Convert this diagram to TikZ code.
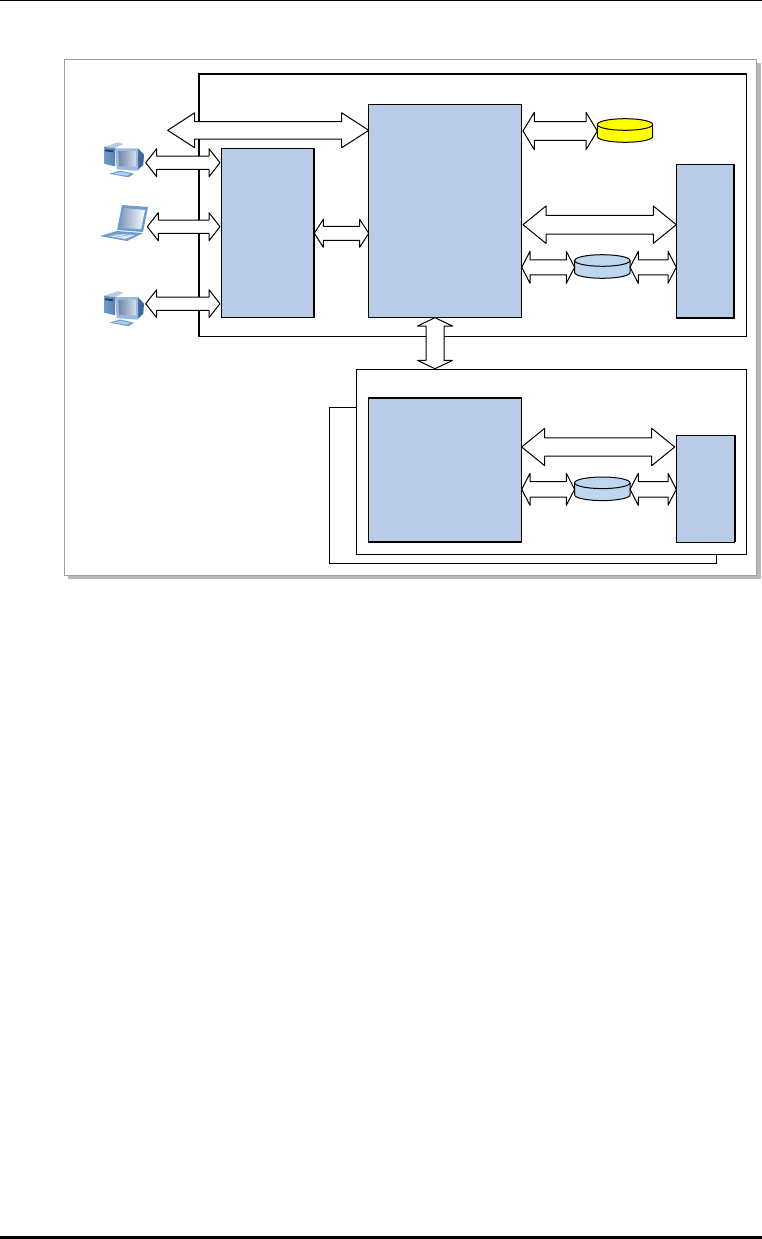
\documentclass[tikz,border=0pt]{standalone}
\usepackage{tikz}
\usetikzlibrary{calc}
\definecolor{boxblue}{RGB}{184,204,232}
\definecolor{diskblue}{RGB}{190,214,238}
\definecolor{diskyellow}{RGB}{255,255,0}
\definecolor{framegray}{RGB}{160,160,160}
\definecolor{shadowgray}{RGB}{185,185,185}
\definecolor{icondark}{RGB}{62,104,156}
\definecolor{iconmid}{RGB}{108,156,208}
\definecolor{iconlight}{RGB}{176,206,236}
\definecolor{screendark}{RGB}{112,134,166}
\definecolor{screenlight}{RGB}{214,222,234}
\newcommand{\diskshape}[2]{%
    \draw[fill=#2, line width=1pt]
        ($(#1.north west)+(0,5.8)$) arc[start angle=180, end angle=0, x radius=27.7pt, y radius=5.8pt]
        -- ($(#1.south east)+(0,-5.8)$) arc[start angle=0, end angle=-180, x radius=27.7pt, y radius=5.8pt] -- cycle;
    \draw[line width=1pt] ($(#1.north west)+(0,5.8)$) arc[start angle=180, end angle=360, x radius=27.7pt, y radius=5.8pt];
}
\tikzset{
    bluebox/.style={rectangle, draw=black, line width=1pt, fill=boxblue, inner sep=0pt, outer sep=0pt},
    framebox/.style={rectangle, draw=black, line width=1pt, fill=white, inner sep=0pt, outer sep=0pt},
    iconbox/.style={rectangle, inner sep=0pt, outer sep=0pt},
    disknode/.style={rectangle, inner sep=0pt, outer sep=0pt, minimum width=55.4pt, minimum height=23.6pt},
    % head length, head half width, shaft half width
    blockarrow/.style n args={3}{draw=black, line width=1pt, fill=white, line join=round,
        to path={
            -- ($(\tikztostart)!#1!(\tikztotarget)!#2!90:(\tikztotarget)$)
            -- ($(\tikztostart)!#1!(\tikztotarget)!#3!90:(\tikztotarget)$)
            -- ($(\tikztotarget)!#1!(\tikztostart)!#3!-90:(\tikztostart)$)
            -- ($(\tikztotarget)!#1!(\tikztostart)!#2!-90:(\tikztostart)$)
            -- (\tikztotarget)
            -- ($(\tikztotarget)!#1!(\tikztostart)!#2!90:(\tikztostart)$)
            -- ($(\tikztotarget)!#1!(\tikztostart)!#3!90:(\tikztostart)$)
            -- ($(\tikztostart)!#1!(\tikztotarget)!#3!-90:(\tikztotarget)$)
            -- ($(\tikztostart)!#1!(\tikztotarget)!#2!-90:(\tikztotarget)$)
            -- cycle}},
    pcicon/.pic={
        % tower
        \fill[iconlight] (-20,-13) -- (-5.7,-17.5) -- (-0.7,-15.8) -- (-9,-11.5) -- cycle;
        \shade[left color=iconmid, right color=icondark!85] (-20,-13) -- (-9,-11.5) -- (-9,6.5) -- (-20,4) -- cycle;
        \fill[icondark!60!black] (-19,-10.5) -- (-11,-9.5) -- (-11,-7.5) -- (-19,-8.5) -- cycle;
        % monitor
        \fill[icondark] (14,-11.5) -- (20,-5) -- (19.3,5) -- (14,10) -- cycle;
        \fill[iconmid!70!white] (-9,-11.5) -- (14,-11.5) -- (14,11) -- (-7.3,9.5) -- cycle;
        \shade[left color=screendark, right color=screenlight] (-5.7,-8.8) -- (12,-8.8) -- (12,6.8) -- (-4.7,6.2) -- cycle;
        % keyboard
        \fill[iconmid] (-14.7,14) -- (-4,10.8) -- (10,14) -- (4.3,17.5) -- cycle;
        \fill[iconlight] (-11,14) -- (-3.5,12) -- (6,14.2) -- (3,16) -- cycle;
    },
    laptopicon/.pic={
        % screen
        \fill[iconmid] (-2,-18) -- (24,-16) -- (19,9) -- (-7,7) -- cycle;
        \shade[shading angle=-60, left color=icondark!70, right color=white] (0,-15) -- (21,-13) -- (17,6) -- (-5,5) -- cycle;
        % base
        \fill[iconmid] (-7,8) -- (19,10) -- (3,18) -- (-24,13) -- cycle;
        \fill[iconlight!40!white] (-6,11) -- (11,12) -- (1,16) -- (-15,13) -- cycle;
        \draw[iconmid] (-13,13) -- (-2,11) (-8,14) -- (5,12);
    }
}
\begin{document}
\begin{tikzpicture}[x=1pt,y=-1pt]
    \useasboundingbox (0,0) rectangle (762,1239);

    % --- page rules ---
    \fill[black] (0,0) rectangle (762,1);
    \fill[black] (0,1236) rectangle (762,1239);

    % --- outer panel ---
    \fill[shadowgray] (68,63) rectangle (760.5,579);
    \node[framebox, draw=framegray, minimum width=692pt, minimum height=516pt] (panel) at (410.8,317.5) {};

    % --- frames ---
    \node[framebox, minimum width=548pt, minimum height=262pt] (mainframe) at (472.8,205) {};
    \draw[line width=2pt] (mainframe.south west) -- (mainframe.north west) -- (mainframe.north east);
    \node[framebox, minimum width=387.4pt, minimum height=156pt] (backframe) at (523,485.3) {};
    \node[framebox, minimum width=390.7pt, minimum height=185pt] (frontframe) at (551.6,461.8) {};

    % --- boxes ---
    \node[bluebox, minimum width=93pt, minimum height=169pt] (boxa) at (267.8,232.8) {};
    \draw[line width=2pt] (boxa.north east) -- (boxa.south east);
    \node[bluebox, minimum width=153pt, minimum height=213pt] (boxb) at (445.2,210.8) {};
    \node[bluebox, minimum width=58pt, minimum height=153.4pt] (boxc) at (705.3,241) {};
    \draw[line width=2pt] (boxc.north east) -- (boxc.south east) -- (boxc.south west);
    \node[bluebox, minimum width=153.4pt, minimum height=144.4pt] (boxd) at (445,469.8) {};
    \draw[line width=2pt] (boxd.north west) -- (boxd.north east) (boxd.south west) -- (boxd.south east);
    \node[bluebox, minimum width=58.4pt, minimum height=107pt] (boxe) at (705.5,488.8) {};
    \draw[line width=2pt] (boxe.north east) -- (boxe.south east);

    % --- disks ---
    \node[disknode] (diskkey) at (625,130.5) {};
    \node[disknode] (diskone) at (602.3,266.5) {};
    \node[disknode] (disktwo) at (602.3,488.8) {};
    \diskshape{diskkey}{diskyellow}
    \diskshape{diskone}{diskblue}
    \diskshape{disktwo}{diskblue}

    % --- client icons ---
    \node[iconbox, minimum width=43.4pt, minimum height=35pt] (pcone) at (124,159.8) {};
    \node[iconbox, minimum width=46.6pt, minimum height=36pt] (laptop) at (124,223) {};
    \node[iconbox, minimum width=43.4pt, minimum height=35pt] (pcthree) at (124,308.7) {};
    \pic at (pcone.center) {pcicon};
    \pic at (laptop.center) {laptopicon};
    \pic at (pcthree.center) {pcicon};

    % Free ends and ports
    \coordinate (wan) at (167.7,130.3);
    \coordinate (portone) at (220,162.7);
    \coordinate (porttwo) at (220,226.7);
    \coordinate (portthree) at (220,303.7);
    \coordinate (portc) at (boxc.west |- 0,224.7);
    \coordinate (porte) at (674.7,447);
    \coordinate (linkdown) at (435,368.7);
    \coordinate (linkup) at (435,317.7);

    % --- connectors ---
    \draw[blockarrow={27pt}{17.5pt}{8.7pt}] (wan) to (wan -| boxb.west);
    \draw[blockarrow={11pt}{14pt}{6.7pt}] (pcone.east |- portone) to (portone);
    \draw[blockarrow={11pt}{14pt}{6.7pt}] (laptop.east |- porttwo) to (porttwo);
    \draw[blockarrow={11pt}{14pt}{6.7pt}] (pcthree.east |- portthree) to (portthree);
    \draw[blockarrow={9pt}{14pt}{7pt}] (boxa.east |- 0,233.3) to (boxb.west |- 0,233.3);
    \draw[blockarrow={11.3pt}{18.7pt}{9.3pt}] (523,131) to (diskkey.west |- 0,131);
    \draw[blockarrow={23pt}{18.7pt}{9.3pt}] (523,224.7) to (portc);
    \draw[blockarrow={8.3pt}{16pt}{7.5pt}] (boxb.east |- 0,267.3) to (diskone.west |- 0,267.3);
    \draw[blockarrow={8.3pt}{16pt}{7.5pt}] (diskone.east |- 0,267.3) to (boxc.west |- 0,267.3);
    \draw[blockarrow={8.3pt}{17.5pt}{9pt}] (linkup) to (linkdown);
    \draw[blockarrow={23pt}{18.7pt}{9.2pt}] (boxd.east |- porte) to (porte);
    \draw[blockarrow={8.3pt}{16pt}{7.7pt}] (boxd.east |- 0,489.3) to (disktwo.west |- 0,489.3);
    \draw[blockarrow={8.3pt}{16pt}{7.7pt}] (disktwo.east |- 0,489.3) to (boxe.west |- 0,489.3);
\end{tikzpicture}
\end{document}
